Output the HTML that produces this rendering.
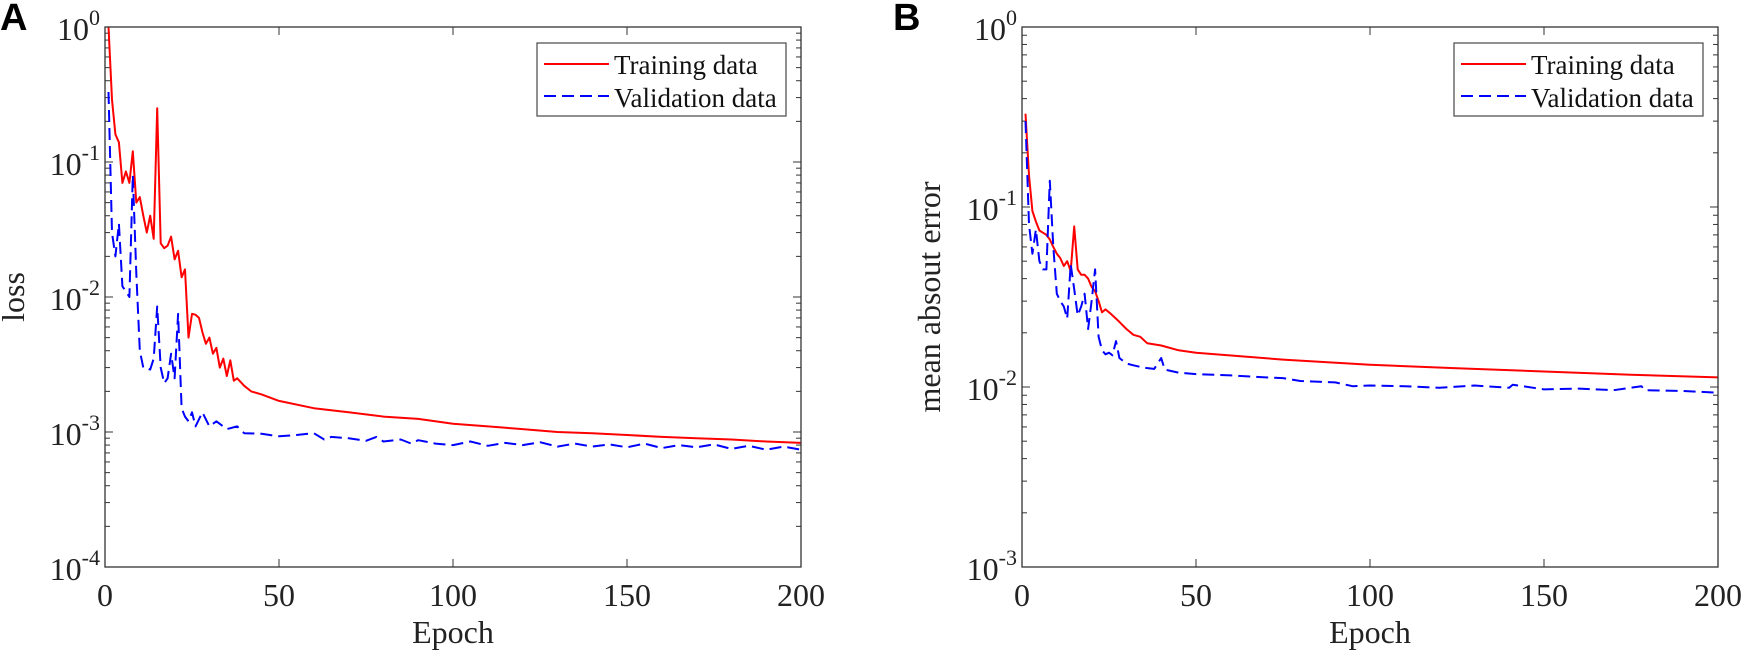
<!DOCTYPE html>
<html><head><meta charset="utf-8"><style>
html,body{margin:0;padding:0;background:#fff;}
svg{display:block;font-family:"Liberation Serif",serif;}
</style></head><body>
<svg id="fig" width="1741" height="651" viewBox="0 0 1741 651">
<text x="0" y="30" font-family="Liberation Sans,sans-serif" font-weight="bold" font-size="38">A</text>
<text x="893" y="30" font-family="Liberation Sans,sans-serif" font-weight="bold" font-size="38">B</text>
</svg>
<script>
// Panel A data
const aTrainEpochs = [1,2,3,4,5,6,7,8,9,10,11,12,13,14,15,16,17,18,19,20,21,22,23,24,25,26,27,28,29,30,31,32,33,34,35,36,37,38,40,42,45,50,60,70,80,90,100,110,120,130,140,150,160,170,180,190,200];
const aTrainValues = [1.0,0.29,0.16,0.14,0.07,0.085,0.07,0.12,0.05,0.055,0.04,0.03,0.04,0.027,0.25,0.025,0.023,0.024,0.028,0.019,0.022,0.014,0.016,0.005,0.0075,0.0074,0.007,0.0055,0.0045,0.005,0.0038,0.0042,0.003,0.0035,0.0026,0.0034,0.0024,0.0025,0.0022,0.002,0.0019,0.0017,0.0015,0.0014,0.0013,0.00125,0.00115,0.0011,0.00105,0.001,0.00098,0.00095,0.00092,0.0009,0.00088,0.00085,0.00083];
const aValEpochs = [1,2,3,4,5,6,7,8,9,10,11,12,13,14,15,16,17,18,19,20,21,22,23,24,25,26,28,30,32,35,38,40,45,50,55,60,63,65,70,75,78,80,85,88,90,95,100,105,110,115,120,125,130,135,140,145,150,155,160,165,170,175,180,185,190,195,200];
const aValValues = [0.33,0.03,0.02,0.035,0.012,0.011,0.01,0.08,0.015,0.004,0.003,0.003,0.0029,0.0035,0.0085,0.003,0.0023,0.0025,0.0038,0.0025,0.0075,0.0015,0.0013,0.0012,0.0014,0.0011,0.0014,0.0011,0.0012,0.00105,0.0011,0.00098,0.00097,0.00093,0.00095,0.00098,0.00088,0.00092,0.0009,0.00086,0.00092,0.00085,0.00088,0.00082,0.00087,0.00082,0.0008,0.00085,0.00079,0.00083,0.0008,0.00084,0.00078,0.00082,0.00078,0.00081,0.00077,0.00082,0.00076,0.0008,0.00077,0.00081,0.00075,0.00079,0.00074,0.00078,0.00074];
// Panel B data
const bTrainEpochs = [1,2,3,4,5,6,7,8,9,10,11,12,13,14,15,16,17,18,19,20,21,22,23,24,25,26,28,30,32,34,36,40,45,50,75,100,125,150,175,200];
const bTrainValues = [0.33,0.15,0.095,0.083,0.074,0.072,0.07,0.066,0.06,0.055,0.052,0.047,0.05,0.044,0.078,0.045,0.042,0.042,0.04,0.036,0.034,0.03,0.026,0.027,0.026,0.025,0.023,0.021,0.0195,0.019,0.0175,0.017,0.016,0.0155,0.0142,0.0133,0.0127,0.0122,0.0117,0.0113];
const bValEpochs = [1,2,3,4,5,6,7,8,9,10,11,12,13,14,15,16,17,18,19,20,21,22,23,24,25,26,27,28,30,32,35,38,40,41,45,50,60,70,75,80,90,95,100,110,120,130,140,141,150,160,170,178,179,190,200];
const bValValues = [0.3,0.08,0.055,0.075,0.05,0.045,0.045,0.14,0.06,0.033,0.03,0.028,0.024,0.048,0.035,0.025,0.028,0.033,0.021,0.03,0.045,0.019,0.016,0.0152,0.0155,0.015,0.018,0.0145,0.0135,0.0132,0.0128,0.0126,0.0145,0.0125,0.012,0.0118,0.0116,0.0113,0.0112,0.0108,0.0106,0.0101,0.0102,0.0101,0.0099,0.0102,0.0099,0.0103,0.0097,0.0098,0.0096,0.0101,0.0096,0.0095,0.0093];
const xTicks = [0,50,100,150,200];

const svg = document.getElementById('fig');
const NS = 'http://www.w3.org/2000/svg';
function mk(tag, attrs, parent){const e=document.createElementNS(NS,tag);for(const k in attrs)e.setAttribute(k,attrs[k]);(parent||svg).appendChild(e);return e;}

function panel(id, left, right, top, bottom, minExp, ylabel, ylabelX, series){
  const g = mk('g',{});
  
  
  const xS = v => left + (v/200)*(right-left);
  const yS = v => top + (0 - Math.log10(v))/(0-minExp)*(bottom-top);
  const ax = '#333';
  for(let e=minExp;e<0;e++){
    for(let m=2;m<=9;m++){
      const y=yS(m*Math.pow(10,e));
      mk('line',{x1:left,x2:left+5,y1:y,y2:y,stroke:ax,'stroke-width':1},g);
      mk('line',{x1:right,x2:right-5,y1:y,y2:y,stroke:ax,'stroke-width':1},g);
    }
  }
  for(let e=minExp;e<=0;e++){
    const y=yS(Math.pow(10,e));
    mk('line',{x1:left,x2:left+8,y1:y,y2:y,stroke:ax,'stroke-width':1},g);
    mk('line',{x1:right,x2:right-8,y1:y,y2:y,stroke:ax,'stroke-width':1},g);
    const t=mk('text',{x:left-5,y:y+13,'text-anchor':'end','font-size':32,fill:'#222'},g);
    
    
    t.textContent='10';
    const s=mk('tspan',{dy:-15,'font-size':22},t);
    s.textContent=String(e);
  }
  for(const v of xTicks){
    const x=xS(v);
    mk('line',{x1:x,x2:x,y1:bottom,y2:bottom-8,stroke:ax,'stroke-width':1},g);
    mk('line',{x1:x,x2:x,y1:top,y2:top+8,stroke:ax,'stroke-width':1},g);
    const t=mk('text',{x:x,y:bottom+39,'text-anchor':'middle','font-size':32,fill:'#222'},g);
    
    
    t.textContent=String(v);
  }
  const xl=mk('text',{x:(left+right)/2,y:bottom+76,'text-anchor':'middle','font-size':32,fill:'#222'},g);
  
  
  xl.textContent='Epoch';
  const yl=mk('text',{x:ylabelX,y:297,'text-anchor':'middle','font-size':32,fill:'#222',transform:'rotate(-90 '+ylabelX+' 297)'},g);
  
  
  yl.textContent=ylabel;
  for(const s of series){
    const d=s.ep.map((e,i)=>(i?'L':'M')+xS(e).toFixed(1)+','+yS(s.val[i]).toFixed(1)).join(' ');
    const p=mk('path',{d:d,fill:'none',stroke:s.color,'stroke-width':2,'stroke-dasharray':s.dash||'none','stroke-linejoin':'round'},g);
    
    
  }
  mk('rect',{x:left,y:top,width:right-left,height:bottom-top,fill:'none',stroke:ax,'stroke-width':1.3},g);
  const lx=right-264, ly=top+16;
  const lg=mk('g',{},g);
  
  
  mk('rect',{x:lx,y:ly,width:249,height:73,fill:'#fff',stroke:'#555','stroke-width':1.3},lg);
  mk('line',{x1:lx+7,x2:lx+72,y1:ly+21,y2:ly+21,stroke:'#ff0000','stroke-width':2},lg);
  mk('line',{x1:lx+7,x2:lx+72,y1:ly+53,y2:ly+53,stroke:'#0000ff','stroke-width':2,'stroke-dasharray':'12 6'},lg);
  const t1=mk('text',{x:lx+77,y:ly+31,'font-size':27,fill:'#111'},lg);
  
  
  t1.textContent='Training data';
  const t2=mk('text',{x:lx+77,y:ly+64,'font-size':27,fill:'#111'},lg);
  
  
  t2.textContent='Validation data';
}

panel('a',105,801,27,567,-4,'loss',24,[
  {ep:aTrainEpochs,val:aTrainValues,color:'#ff0000',name:'training-line-a'},
  {ep:aValEpochs,val:aValValues,color:'#0000ff',dash:'12 6',name:'validation-line-a'}
]);
panel('b',1022,1718,27,567,-3,'mean absout error',940,[
  {ep:bTrainEpochs,val:bTrainValues,color:'#ff0000',name:'training-line-b'},
  {ep:bValEpochs,val:bValValues,color:'#0000ff',dash:'12 6',name:'validation-line-b'}
]);
</script>
</body></html>
